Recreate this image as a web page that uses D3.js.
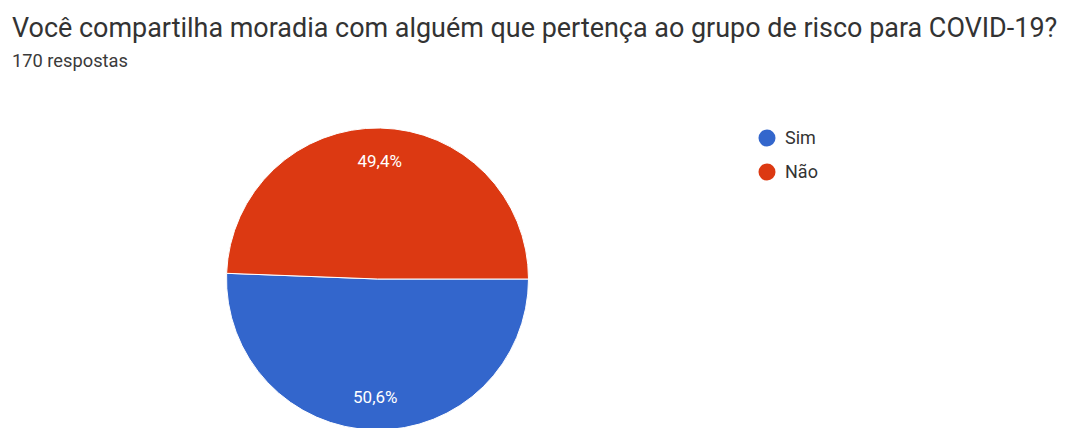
<!DOCTYPE html>
<html><head><meta charset="utf-8">
<script src="https://cdn.jsdelivr.net/npm/d3@7"></script>
<style>body{margin:0;background:#fff}svg{display:block}</style>
</head><body>
<svg id="c" width="1084" height="428"></svg>
<script>
const titleText = "Você compartilha moradia com alguém que pertença ao grupo de risco para COVID-19?";
const subtitleText = "170 respostas";
const categories = ["Sim", "Não"];
const values = [50.6, 49.4];
const colors = ["#3366cc", "#dc3912"];

const svg = d3.select("#c");

function fit(sel, target) {
  const w = sel.node().getComputedTextLength();
  const fs = parseFloat(sel.attr("font-size"));
  sel.attr("font-size", fs * target / w);
}

const t = svg.append("text").attr("x", 12).attr("y", 37)
  .attr("font-family", "Roboto, 'Open Sans', sans-serif").attr("font-size", 24)
  .attr("fill", "#333").text(titleText);
fit(t, 1046);

const s = svg.append("text").attr("x", 12).attr("y", 67)
  .attr("font-family", "Roboto, sans-serif").attr("font-size", 14)
  .attr("fill", "#3a3a3a").text(subtitleText);
fit(s, 116);

const cx = 377.5, cy = 279, r = 151;
const pie = d3.pie().sort(null).startAngle(Math.PI / 2).endAngle(Math.PI / 2 + 2 * Math.PI);
const arcs = pie(values);
const arc = d3.arc().innerRadius(0).outerRadius(r);
const color = d3.scaleOrdinal().domain(categories).range(colors);

const g = svg.append("g").attr("transform", `translate(${cx},${cy})`);
g.selectAll("path").data(arcs).join("path")
  .attr("d", arc)
  .attr("fill", (d, i) => color(categories[i]))
  .attr("stroke", "#fff").attr("stroke-width", 1);

const fmt = v => v.toFixed(1).replace(".", ",") + "%";
const labelArc = d3.arc().innerRadius(r * 0.78).outerRadius(r * 0.78);
g.selectAll("text.lbl").data(arcs).join("text")
  .attr("class", "lbl")
  .attr("transform", d => `translate(${labelArc.centroid(d)})`)
  .attr("text-anchor", "middle").attr("dy", "0.35em")
  .attr("font-family", "Roboto, sans-serif").attr("font-size", 17)
  .attr("fill", "#fff").text(d => fmt(d.value));

const lg = svg.append("g").attr("transform", "translate(767,138)");
const items = lg.selectAll("g").data(categories).join("g")
  .attr("transform", (d, i) => `translate(0,${i * 34})`);
items.append("circle").attr("r", 8.5).attr("fill", d => color(d));
items.append("text").attr("x", 18).attr("dy", "0.36em")
  .attr("font-family", "Roboto, sans-serif").attr("font-size", 18)
  .attr("fill", "#333").text(d => d);
</script>
</body></html>
